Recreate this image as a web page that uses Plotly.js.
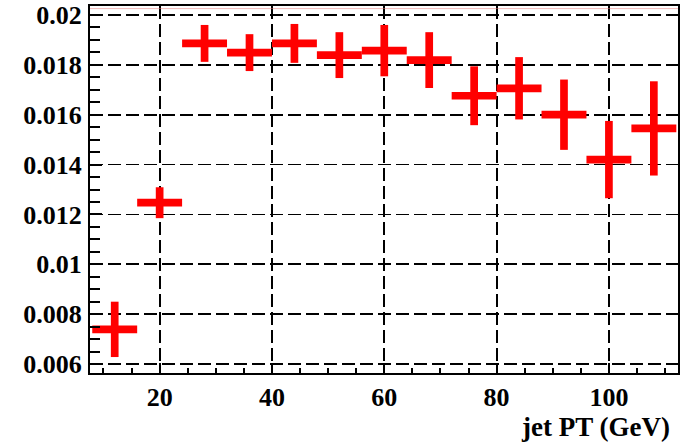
<!DOCTYPE html>
<html>
<head>
<meta charset="utf-8">
<script src="https://cdn.plot.ly/plotly-3.0.1.min.js"></script>
<style>html,body{margin:0;padding:0;background:#fff;} #chart{width:689px;height:443px;}</style>
</head>
<body>
<div id="chart"></div>
<script>
// Bin centres (jet PT, GeV) and half bin widths
var jetPT = [12, 20, 28, 36, 44, 52, 60, 68, 76, 84, 92, 100, 108];
var ptHalfWidth = [4, 4, 4, 4, 4, 4, 4, 4, 4, 4, 4, 4, 4];
// Measured values and their errors
var values = [0.00739, 0.01247, 0.01886, 0.01849, 0.01886, 0.01839, 0.01857, 0.01819, 0.01676, 0.01706, 0.0160, 0.01420, 0.01545];
var valueErr = [0.00111, 0.00062, 0.00074, 0.00074, 0.00078, 0.00092, 0.00103, 0.00112, 0.00118, 0.00125, 0.00141, 0.00155, 0.00189];
// Tick labels
var yTickVals = [0.006, 0.008, 0.010, 0.012, 0.014, 0.016, 0.018, 0.020];
var yTickText = ["0.006", "0.008", "0.01", "0.012", "0.014", "0.016", "0.018", "0.02"];
var xTickVals = [20, 40, 60, 80, 100];
var xTickText = ["20", "40", "60", "80", "100"];
var xTitle = "jet PT (GeV)";

var FAMILY = '"Liberation Serif", "DejaVu Serif", serif';

var trace = {
  x: jetPT,
  y: values,
  type: 'scatter',
  mode: 'markers',
  marker: {size: 1, color: 'rgba(0,0,0,0)'},
  error_x: {type: 'data', array: ptHalfWidth, visible: true, color: '#ff0000', thickness: 7.7, width: 0},
  error_y: {type: 'data', array: valueErr, visible: true, color: '#ff0000', thickness: 7.7, width: 0},
  hoverinfo: 'skip',
  cliponaxis: true
};

var layout = {
  width: 689,
  height: 443,
  margin: {l: 90, r: 11, t: 6, b: 70, pad: 0, autoexpand: false},
  paper_bgcolor: '#fff',
  plot_bgcolor: '#fff',
  showlegend: false,
  font: {family: FAMILY, size: 27, color: '#000', weight: 'bold'},
  xaxis: {
    range: [7.6, 112.3],
    tickmode: 'array',
    tickvals: xTickVals,
    ticktext: xTickText,
    ticks: 'inside',
    ticklen: 10,
    tickwidth: 2,
    tickcolor: '#000',
    ticklabelstandoff: 0,
    minor: {dtick: 5, tick0: 0, ticks: 'inside', ticklen: 5, tickwidth: 2, tickcolor: '#000', showgrid: false},
    showgrid: true,
    gridcolor: '#000',
    gridwidth: 1.8,
    griddash: '13px,5px',
    showline: true,
    linecolor: '#000',
    linewidth: 2,
    mirror: true,
    zeroline: false,
    automargin: false,
    tickfont: {family: FAMILY, size: 26, color: '#000', weight: 'bold'},
    fixedrange: true
  },
  yaxis: {
    range: [0.00564, 0.02036],
    tickmode: 'array',
    tickvals: yTickVals,
    ticktext: yTickText,
    ticks: 'inside',
    ticklen: 12,
    tickwidth: 2,
    tickcolor: '#000',
    ticklabelstandoff: 1,
    minor: {dtick: 0.0005, tick0: 0, ticks: 'inside', ticklen: 10, tickwidth: 2, tickcolor: '#000', showgrid: false},
    showgrid: true,
    gridcolor: '#000',
    gridwidth: 1.8,
    griddash: '13px,5px',
    showline: true,
    linecolor: '#000',
    linewidth: 2,
    mirror: true,
    zeroline: false,
    automargin: false,
    tickfont: {family: FAMILY, size: 26, color: '#000', weight: 'bold'},
    fixedrange: true
  },
  annotations: [{
    text: xTitle,
    xref: 'paper', yref: 'paper',
    x: 0.989, y: -0.1,
    xanchor: 'right', yanchor: 'top',
    showarrow: false,
    font: {family: FAMILY, size: 27, color: '#000', weight: 'bold'}
  }],
  shapes: [{
    type: 'line', xref: 'paper', yref: 'paper',
    x0: 0, x1: 1, y0: 0.993, y1: 0.993,
    line: {color: 'rgba(230,120,120,0.5)', width: 1}
  }]
};

Plotly.newPlot('chart', [trace], layout, {staticPlot: true, displayModeBar: false});
</script>
</body>
</html>
